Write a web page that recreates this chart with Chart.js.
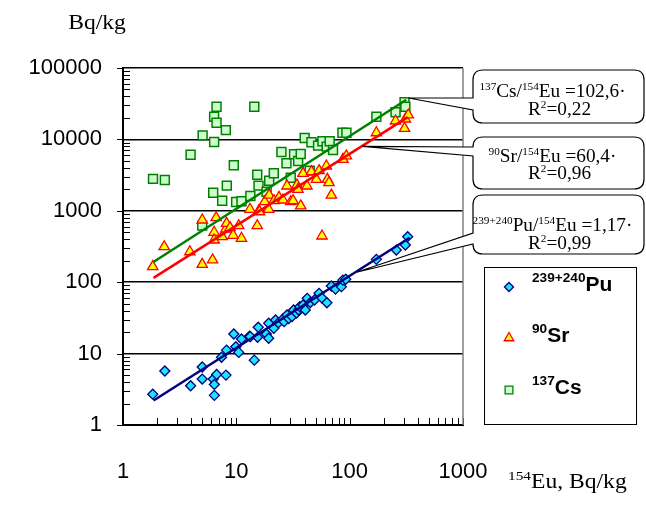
<!DOCTYPE html>
<html>
<head>
<meta charset="utf-8">
<script src="https://cdn.jsdelivr.net/npm/chart.js@4.4.0/dist/chart.umd.min.js"></script>
<style>
  html, body { margin: 0; padding: 0; background: #fff; }
  canvas { display: block; }
</style>
</head>
<body>
<canvas id="chart1" width="646" height="508"></canvas>
<script>
// [154Eu, isotope] activity, Bq/kg
const puPoints = [
  [1.83, 2.7], [2.34, 5.7], [3.95, 3.55], [5.0, 6.5], [5.0, 4.4], [6.25, 4.4], [6.4, 3.7], [6.4, 2.6],
  [6.7, 5.1], [8.1, 5.0], [7.4, 8.9], [8.2, 11.2], [9.5, 18.8], [9.9, 12.5], [10.5, 10.4], [11.1, 16],
  [13.1, 17.6], [13.3, 17.3], [14.4, 8.1], [15.4, 16.9], [15.6, 23.4], [18.4, 18.8], [19.3, 26.6], [19.3, 16.4],
  [21.4, 22.6], [22.2, 29.6], [23.5, 27], [25.8, 30.5], [26.4, 28], [28, 34.7], [29, 31], [31, 33],
  [32, 40.8], [34, 37], [35.5, 40.8], [36.3, 45.4], [38.8, 48], [40.6, 40.8], [42.2, 59.5], [45, 52],
  [49, 56.3], [53.7, 69.9], [57, 60], [63, 51.6], [69, 88.5], [75, 80], [84.5, 86.5], [87, 107],
  [92.4, 110], [172, 209], [258, 282], [310, 332], [325, 434]
];
const srPoints = [
  [1.83, 165], [2.31, 314], [3.89, 267], [5.0, 178], [5.0, 743], [6.17, 205], [6.37, 500], [6.37, 390],
  [6.64, 800], [7.5, 434], [8.08, 556], [8.2, 668], [8.8, 580], [9.37, 454], [10.5, 618], [11.1, 412],
  [13.2, 1050], [15.3, 618], [15.8, 1000], [16, 970], [17.8, 1340], [19.3, 1050], [19.5, 1660], [21.5, 1385],
  [23.8, 1545], [25.8, 1417], [28, 2225], [30.2, 1340], [31.7, 1385], [34.3, 2300], [35, 2000], [37, 1170],
  [38.8, 3350], [42, 2225], [46, 3530], [50.9, 2760], [53.7, 3645], [57, 444], [62.3, 4240], [63.6, 2760],
  [65.7, 2475], [69, 1660], [87.3, 5260], [93.5, 5860], [172, 12400], [254, 18100], [305, 14300], [310, 19300],
  [329, 22000]
];
const csPoints = [
  [1.84, 2800], [2.34, 2700], [3.95, 6100], [5.04, 11400], [5.0, 620], [6.25, 1790], [6.37, 9200], [6.37, 20800],
  [6.69, 28700], [6.69, 17100], [7.5, 1380], [8.08, 13500], [8.24, 2250], [9.5, 4340], [9.96, 1330], [11.1, 1360],
  [13.3, 1610], [14.4, 28700], [15.3, 3200], [15.7, 2250], [18.5, 1850], [19.5, 2640], [21.4, 3350], [25, 6660],
  [27.7, 4630], [30.2, 2910], [32.3, 6190], [35.1, 4980], [37, 6250], [40.1, 10470], [44.4, 3650], [46, 9100],
  [52.6, 8170], [57.5, 9400], [62.7, 7910], [66.6, 9400], [71.3, 7110], [86.3, 12400], [93.6, 12400], [172, 20800],
  [254, 24000], [305, 33100], [310, 28700]
];

// regression lines, end points
const puFit = [[1.86, 2.2], [338, 420]];
const srFit = [[1.86, 115], [326, 20500]];
const csFit = [[1.84, 190], [316, 36000]];

const xTickLabels = [1, 10, 100, 1000];
const yTickLabels = [1, 10, 100, 1000, 10000, 100000];

// callout text, [text, superscript?]
const csLabel = [[['137', 1], ['Cs/', 0], ['154', 1], ['Eu =102,6·', 0]], [['R', 0], ['2', 1], ['=0,22', 0]]];
const srLabel = [[['90', 1], ['Sr/', 0], ['154', 1], ['Eu =60,4·', 0]], [['R', 0], ['2', 1], ['=0,96', 0]]];
const puLabel = [[['239+240', 1], ['Pu/', 0], ['154', 1], ['Eu =1,17·', 0]], [['R', 0], ['2', 1], ['=0,99', 0]]];
// where each callout points to on its line
const csTip = [330, 38000];
const srTip = [130, 8000];
const puTip = [115, 138];

const legendNames = [[['239+240', 1], ['Pu', 0]], [['90', 1], ['Sr', 0]], [['137', 1], ['Cs', 0]]];

const SANS = "'Liberation Sans', Arial, sans-serif";
const SERIF = "'Liberation Serif', 'Times New Roman', serif";

function isDecade(v) {
  const l = Math.log10(v);
  return Math.abs(l - Math.round(l)) < 1e-9;
}

function logTicks(scale) {
  const out = [];
  for (let d = scale.min; d < scale.max; d *= 10) {
    for (let m = 1; m < 10; m++) out.push({ value: m * d, major: m === 1 });
  }
  out.push({ value: scale.max, major: true });
  scale.ticks = out;
}

function toXY(arr) {
  return arr.map(p => ({ x: p[0], y: p[1] }));
}

// rich text with superscripts, horizontally stretched like the original
function richWidth(ctx, parts, f) {
  let w = 0;
  parts.forEach(p => {
    ctx.font = f.weight + ' ' + (p[1] ? f.sup : f.size) + 'px ' + f.family;
    w += ctx.measureText(p[0]).width;
  });
  return w * f.stretch;
}

function drawRich(ctx, parts, x, base, f, align) {
  let w = richWidth(ctx, parts, f);
  let cx = align === 'center' ? x - w / 2 : x;
  ctx.save();
  ctx.translate(cx, base);
  ctx.scale(f.stretch, 1);
  ctx.fillStyle = '#000';
  ctx.textBaseline = 'alphabetic';
  ctx.textAlign = 'left';
  let px = 0;
  parts.forEach(p => {
    ctx.font = f.weight + ' ' + (p[1] ? f.sup : f.size) + 'px ' + f.family;
    ctx.fillText(p[0], px, p[1] ? -f.rise : 0);
    px += ctx.measureText(p[0]).width;
  });
  ctx.restore();
}

function callout(ctx, tip, b, lines) {
  const l = b.x, t = b.y, r = b.r;
  const rr = l + b.w, bt = t + b.h;
  ctx.beginPath();
  ctx.moveTo(l + r, t);
  ctx.lineTo(rr - r, t);
  ctx.quadraticCurveTo(rr, t, rr, t + r);
  ctx.lineTo(rr, bt - r);
  ctx.quadraticCurveTo(rr, bt, rr - r, bt);
  ctx.lineTo(l + r, bt);
  ctx.quadraticCurveTo(l, bt, l, bt - r);
  ctx.lineTo(l, b.a2);
  ctx.lineTo(tip.x, tip.y);
  ctx.lineTo(l, b.a1);
  ctx.lineTo(l, t + r);
  ctx.quadraticCurveTo(l, t, l + r, t);
  ctx.closePath();
  ctx.fillStyle = '#fff';
  ctx.fill();
  ctx.strokeStyle = '#000';
  ctx.lineWidth = 1.2;
  ctx.stroke();
  const f = { family: SERIF, weight: 'normal', size: 18, sup: 10.5, rise: 7, stretch: 1.07 };
  drawRich(ctx, lines[0], l + b.w / 2 - 6, b.b1, f, 'center');
  drawRich(ctx, lines[1], l + b.w / 2 + 1, b.b2, f, 'center');
}

const decor = {
  id: 'decor',
  afterDatasetsDraw(chart) {
    const { ctx, chartArea: a, scales } = chart;
    const x = scales.x, y = scales.y;
    ctx.save();

    // small ticks inside the plot
    ctx.strokeStyle = '#000';
    ctx.lineWidth = 1;
    ctx.beginPath();
    y.ticks.forEach(t => {
      const p = Math.round(y.getPixelForValue(t.value)) + 0.5;
      if (isDecade(t.value)) { ctx.moveTo(a.left - 6, p); ctx.lineTo(a.left, p); }
      else { ctx.moveTo(a.left, p); ctx.lineTo(a.left + 7, p); }
    });
    x.ticks.forEach(t => {
      const p = Math.round(x.getPixelForValue(t.value)) + 0.5;
      ctx.moveTo(p, a.bottom - 7);
      ctx.lineTo(p, a.bottom);
    });
    ctx.stroke();

    // right frame line
    ctx.strokeStyle = '#808080';
    ctx.lineWidth = 1.5;
    ctx.beginPath();
    ctx.moveTo(a.right, a.top);
    ctx.lineTo(a.right, a.bottom);
    ctx.stroke();

    // axis titles
    const tf = { family: SERIF, weight: 'normal', size: 20, sup: 13, rise: 8, stretch: 1.18 };
    drawRich(ctx, [['Bq/kg', 0]], 97, 29, tf, 'center');
    drawRich(ctx, [['154', 1], ['Eu, Bq/kg', 0]], 508, 488, tf, 'left');

    // callouts
    const tip = v => ({ x: x.getPixelForValue(v[0]), y: y.getPixelForValue(v[1]) });
    callout(ctx, tip(csTip), { x: 473, y: 70, w: 171, h: 53, r: 10, a1: 98, a2: 110, b1: 97, b2: 115 }, csLabel);
    callout(ctx, tip(srTip), { x: 473, y: 137, w: 171, h: 52, r: 10, a1: 147, a2: 156, b1: 162, b2: 179 }, srLabel);
    callout(ctx, tip(puTip), { x: 473, y: 195, w: 171, h: 59, r: 10, a1: 233, a2: 244, b1: 231, b2: 249 }, puLabel);

    // legend box
    ctx.strokeStyle = '#000';
    ctx.lineWidth = 1;
    ctx.fillStyle = '#fff';
    ctx.fillRect(484.5, 267.5, 152, 157);
    ctx.strokeRect(484.5, 267.5, 152, 157);
    const lf = { family: SANS, weight: 'bold', size: 20, sup: 13, rise: 9, stretch: 1.05 };
    const rows = [287, 338, 390];
    const sets = [chart.data.datasets[3], chart.data.datasets[4], chart.data.datasets[5]];
    const sizes = [4.5, 5.5, 5.5];
    sets.forEach((ds, i) => {
      ctx.fillStyle = ds.backgroundColor;
      ctx.strokeStyle = ds.borderColor;
      ctx.lineWidth = 1.3;
      Chart.helpers.drawPoint(ctx, { pointStyle: ds.pointStyle, radius: sizes[i], rotation: 0, borderWidth: 1.3 }, 509, rows[i]);
      drawRich(ctx, legendNames[i], 532, rows[i] + 4, lf, 'left');
    });
    ctx.restore();
  }
};

const lineSet = (pts, color) => ({
  data: toXY(pts), showLine: true, borderColor: color, borderWidth: 2.5,
  pointRadius: 0, fill: false, tension: 0
});

const ctx = document.getElementById('chart1').getContext('2d');
new Chart(ctx, {
  type: 'scatter',
  data: {
    datasets: [
      lineSet(puFit, '#000080'),
      lineSet(srFit, '#ff0000'),
      lineSet(csFit, '#008000'),
      { data: toXY(puPoints), pointStyle: 'rectRot', pointRadius: 5, backgroundColor: '#19e6ff', borderColor: '#000080', borderWidth: 1.3 },
      { data: toXY(srPoints), pointStyle: 'triangle', pointRadius: 6, backgroundColor: '#ffff00', borderColor: '#ff0000', borderWidth: 1.3 },
      { data: toXY(csPoints), pointStyle: 'rect', pointRadius: 6.3, backgroundColor: '#ccffcc', borderColor: '#008000', borderWidth: 1.5 }
    ]
  },
  options: {
    responsive: false,
    animation: false,
    layout: { padding: { top: 68, right: 183, left: 0, bottom: 0 } },
    plugins: { legend: { display: false }, tooltip: { enabled: false } },
    scales: {
      x: {
        type: 'logarithmic', min: 1, max: 1000,
        afterBuildTicks: logTicks,
        afterFit: s => { s.height = 83; },
        grid: { display: false, drawTicks: false },
        border: { display: true, color: '#000', width: 2 },
        ticks: {
          autoSkip: false, maxRotation: 0, padding: 34, color: '#000',
          font: { family: SANS, size: 22 },
          callback: v => xTickLabels.includes(v) ? String(v) : ''
        }
      },
      y: {
        type: 'logarithmic', min: 1, max: 100000,
        afterBuildTicks: logTicks,
        afterFit: s => { s.width = 123; },
        grid: {
          drawTicks: false, lineWidth: 1.5,
          color: c => (c.tick && isDecade(c.tick.value)) ? '#000' : 'rgba(0,0,0,0)'
        },
        border: { display: true, color: '#000', width: 2 },
        ticks: {
          autoSkip: false, padding: 21, color: '#000',
          font: { family: SANS, size: 22 },
          callback: v => yTickLabels.includes(v) ? String(v) : ''
        }
      }
    }
  },
  plugins: [decor]
});
</script>
</body>
</html>
